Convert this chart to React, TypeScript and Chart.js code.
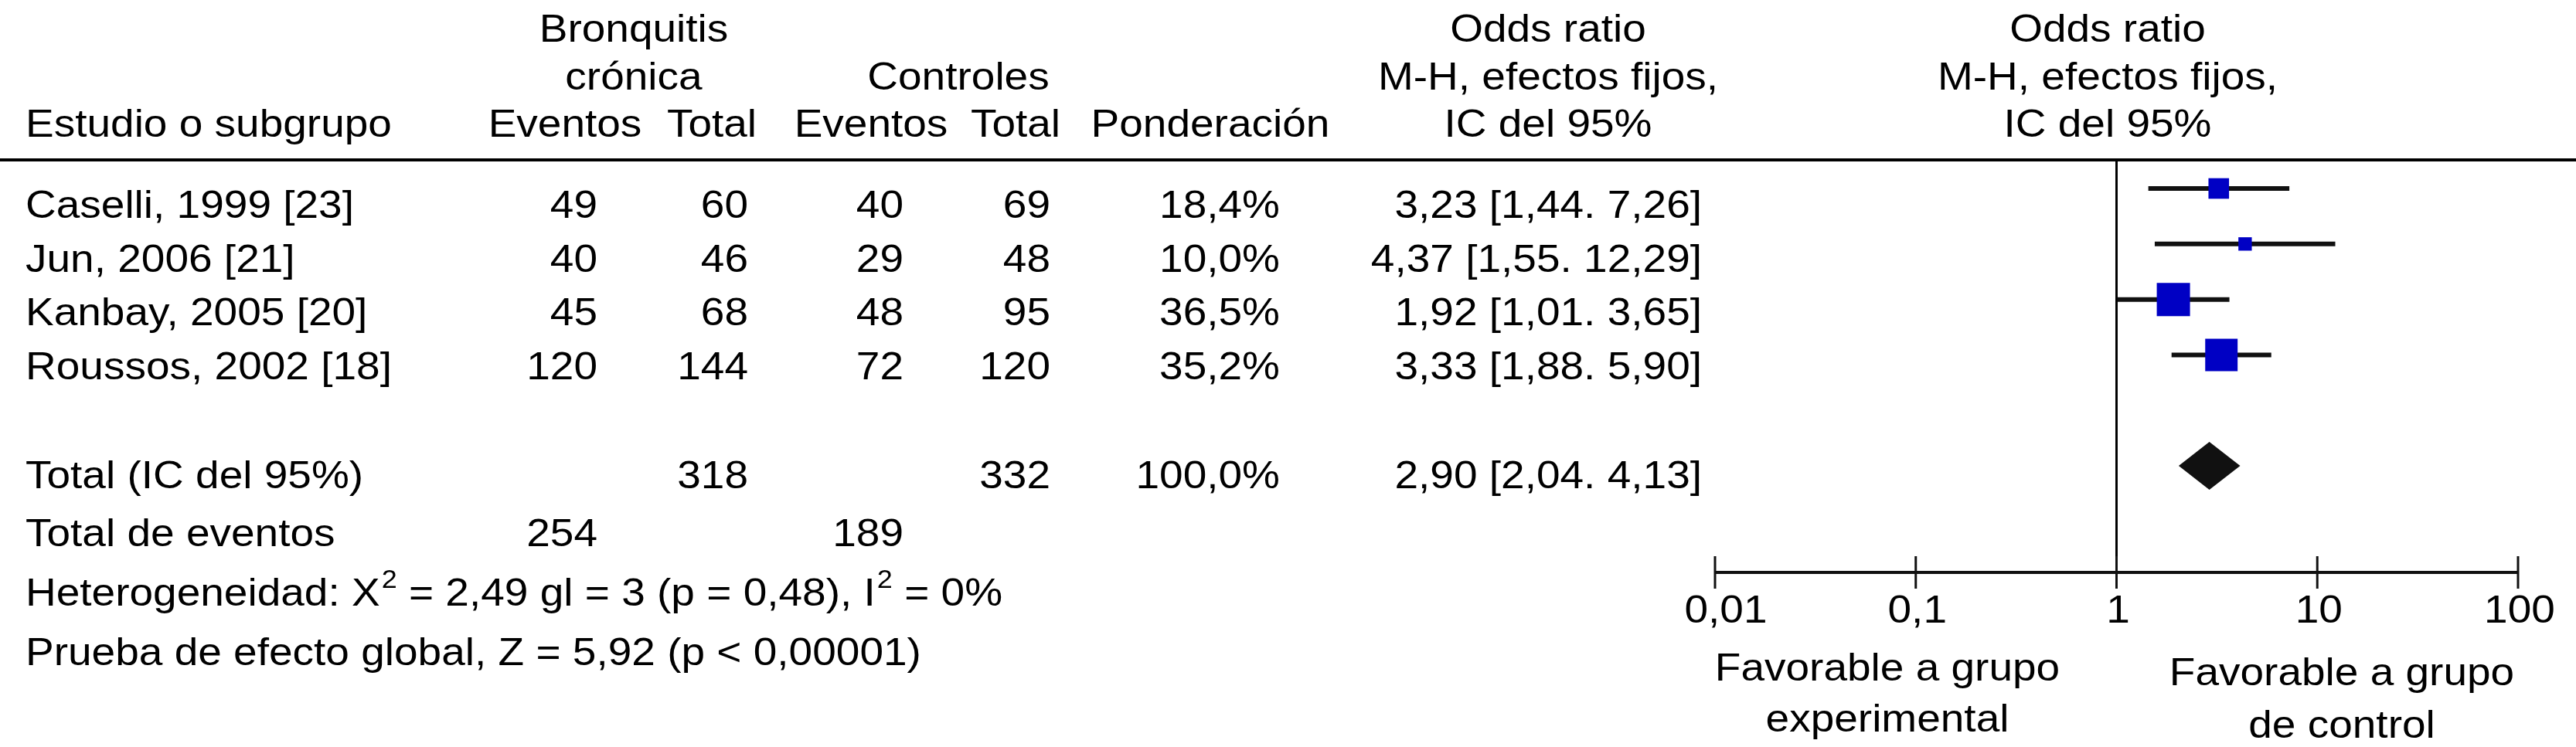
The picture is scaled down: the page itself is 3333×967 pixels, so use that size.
import React, { useEffect, useRef } from "react";
import { Chart, registerables } from "chart.js";

Chart.register(...registerables);

// ---------- data ----------
const studies = ["Caselli, 1999 [23]", "Jun, 2006 [21]", "Kanbay, 2005 [20]", "Roussos, 2002 [18]"];
const expEvents = [49, 40, 45, 120];
const expTotal = [60, 46, 68, 144];
const ctrlEvents = [40, 29, 48, 72];
const ctrlTotal = [69, 48, 95, 120];
const weights = [18.4, 10.0, 36.5, 35.2];
const oddsRatio = [3.23, 4.37, 1.92, 3.33];
const ciLow = [1.44, 1.55, 1.01, 1.88];
const ciHigh = [7.26, 12.29, 3.65, 5.9];
const studyRows = [0, 1, 2, 3];

const totalRow = 5;
const totalLabel = "Total (IC del 95%)";
const totalExp = 318;
const totalCtrl = 332;
const totalWeight = 100.0;
const totalOR = [2.9];
const totalLow = [2.04];
const totalHigh = [4.13];
const eventsLabel = "Total de eventos";
const totalExpEvents = 254;
const totalCtrlEvents = 189;

const tickValues = [0.01, 0.1, 1, 10, 100];
const tickLabels = ["0,01", "0,1", "1", "10", "100"];

const heteroParts: [string, boolean][] = [
  ["Heterogeneidad: X", false],
  ["2", true],
  [" = 2,49 gl = 3 (p = 0,48), I", false],
  ["2", true],
  [" = 0%", false],
];
const overallText = "Prueba de efecto global, Z = 5,92 (p < 0,00001)";

// ---------- helpers ----------
const W = 3333;
const H = 967;
const FONT = '"Liberation Sans", Arial, Helvetica, sans-serif';
const FS = 55;
const SQ = 0.9;
const BLUE = "#0000c4";
const INK = "#111111";

const fmt = (v: number, d: number) => v.toFixed(d).replace(".", ",");
const ciText = (o: number, l: number, h: number) => `${fmt(o, 2)} [${fmt(l, 2)}. ${fmt(h, 2)}]`;

function txt(ctx: CanvasRenderingContext2D, s: string, x: number, y: number, align: CanvasTextAlign, size = FS) {
  ctx.save();
  ctx.font = `${size}px ${FONT}`;
  ctx.translate(x, y);
  ctx.scale(1, SQ);
  ctx.textAlign = align;
  ctx.textBaseline = "alphabetic";
  ctx.fillStyle = "#000";
  ctx.fillText(s, 0, 0);
  ctx.restore();
}

const forestPlugin = {
  id: "forest",
  beforeDatasetsDraw(chart: any) {
    const { ctx, chartArea, scales } = chart;
    const xs = scales.x;
    ctx.save();
    ctx.strokeStyle = "#000";
    // header rule
    ctx.lineWidth = 4;
    ctx.beginPath();
    ctx.moveTo(0, chartArea.top);
    ctx.lineTo(W, chartArea.top);
    ctx.stroke();
    // line of no effect
    const x1 = xs.getPixelForValue(1);
    ctx.lineWidth = 3;
    ctx.beginPath();
    ctx.moveTo(x1, chartArea.top);
    ctx.lineTo(x1, chartArea.bottom);
    ctx.stroke();
    // axis
    const ay = chartArea.bottom;
    ctx.strokeStyle = INK;
    ctx.lineWidth = 4;
    ctx.beginPath();
    ctx.moveTo(xs.getPixelForValue(tickValues[0]), ay);
    ctx.lineTo(xs.getPixelForValue(tickValues[tickValues.length - 1]), ay);
    ctx.stroke();
    ctx.lineWidth = 3;
    tickValues.forEach((v, i) => {
      const px = xs.getPixelForValue(v);
      ctx.beginPath();
      ctx.moveTo(px, ay - 21);
      ctx.lineTo(px, ay + 21);
      ctx.stroke();
      txt(ctx, tickLabels[i], px + (i === 0 ? 14 : 2), ay + 65, "center");
    });
    ctx.restore();
  },
  afterDatasetsDraw(chart: any) {
    const { ctx, scales } = chart;
    const xs = scales.x;
    const ys = scales.y;
    ctx.save();
    ctx.fillStyle = INK;
    totalOR.forEach((o, i) => {
      const cy = ys.getPixelForValue(totalRow);
      const xl = xs.getPixelForValue(totalLow[i]);
      const xr = xs.getPixelForValue(totalHigh[i]);
      const xc = xs.getPixelForValue(o);
      ctx.beginPath();
      ctx.moveTo(xl, cy);
      ctx.lineTo(xc, cy - 31);
      ctx.lineTo(xr, cy);
      ctx.lineTo(xc, cy + 31);
      ctx.closePath();
      ctx.fill();
    });
    ctx.restore();
  },
  afterDraw(chart: any) {
    const { ctx } = chart;
    // header
    const h1 = 54, h2 = 116, h3 = 177;
    txt(ctx, "Bronquitis", 820, h1, "center");
    txt(ctx, "crónica", 820, h2, "center");
    txt(ctx, "Controles", 1240, h2, "center");
    txt(ctx, "Odds ratio", 2003, h1, "center");
    txt(ctx, "M-H, efectos fijos,", 2003, h2, "center");
    txt(ctx, "IC del 95%", 2003, h3, "center");
    txt(ctx, "Odds ratio", 2727, h1, "center");
    txt(ctx, "M-H, efectos fijos,", 2727, h2, "center");
    txt(ctx, "IC del 95%", 2727, h3, "center");
    txt(ctx, "Estudio o subgrupo", 33, h3, "left");
    txt(ctx, "Eventos", 731, h3, "center");
    txt(ctx, "Total", 921, h3, "center");
    txt(ctx, "Eventos", 1127, h3, "center");
    txt(ctx, "Total", 1314, h3, "center");
    txt(ctx, "Ponderación", 1566, h3, "center");

    // studies
    const rowBase = [282, 352, 421, 491];
    studies.forEach((s, i) => {
      const y = rowBase[i];
      txt(ctx, s, 33, y, "left");
      txt(ctx, String(expEvents[i]), 773, y, "right");
      txt(ctx, String(expTotal[i]), 968, y, "right");
      txt(ctx, String(ctrlEvents[i]), 1169, y, "right");
      txt(ctx, String(ctrlTotal[i]), 1359, y, "right");
      txt(ctx, fmt(weights[i], 1) + "%", 1656, y, "right");
      txt(ctx, ciText(oddsRatio[i], ciLow[i], ciHigh[i]), 2202, y, "right");
    });

    // total
    const ty = 632;
    txt(ctx, totalLabel, 33, ty, "left");
    txt(ctx, String(totalExp), 968, ty, "right");
    txt(ctx, String(totalCtrl), 1359, ty, "right");
    txt(ctx, fmt(totalWeight, 1) + "%", 1656, ty, "right");
    txt(ctx, ciText(totalOR[0], totalLow[0], totalHigh[0]), 2202, ty, "right");

    const ey = 707;
    txt(ctx, eventsLabel, 33, ey, "left");
    txt(ctx, String(totalExpEvents), 773, ey, "right");
    txt(ctx, String(totalCtrlEvents), 1169, ey, "right");

    // heterogeneity
    const hy = 784;
    let hx = 33;
    ctx.save();
    heteroParts.forEach(([s, sup]) => {
      const size = sup ? 36 : FS;
      ctx.font = `${size}px ${FONT}`;
      const w = ctx.measureText(s).width;
      txt(ctx, s, hx + (sup ? 2 : 0), sup ? hy - 23 : hy, "left", size);
      hx += w + (sup ? 2 : 0);
    });
    ctx.restore();
    txt(ctx, overallText, 33, 861, "left");

    // favours
    txt(ctx, "Favorable a grupo", 2442, 881, "center");
    txt(ctx, "experimental", 2442, 947, "center");
    txt(ctx, "Favorable a grupo", 3030, 887, "center");
    txt(ctx, "de control", 3030, 955, "center");
  },
};

export default function App() {
  const ref = useRef<HTMLCanvasElement | null>(null);

  useEffect(() => {
    document.body.style.margin = "0";
    const canvas = ref.current;
    if (!canvas) return;

    const squares = {
      type: "scatter" as const,
      label: "OR",
      order: 0,
      data: oddsRatio.map((v, i) => ({ x: v, y: studyRows[i] })),
      pointStyle: "rect",
      pointRadius: (c: any) => (43 * Math.pow(weights[c.dataIndex] / 36.5, 0.7)) / Math.SQRT2,
      pointBackgroundColor: BLUE,
      pointBorderWidth: 0,
      borderWidth: 0,
      showLine: false,
    };
    const lines = studies.map((s, i) => ({
      type: "line" as const,
      label: s,
      order: 1,
      data: [
        { x: ciLow[i], y: studyRows[i] },
        { x: ciHigh[i], y: studyRows[i] },
      ],
      borderColor: INK,
      borderWidth: 6,
      borderCapStyle: "butt",
      pointRadius: 0,
      fill: false,
    }));

    const chart = new Chart(canvas, {
      type: "scatter",
      data: { datasets: [squares as any, ...(lines as any[])] },
      options: {
        responsive: false,
        maintainAspectRatio: false,
        devicePixelRatio: 1,
        animation: false,
        layout: { padding: { left: 2219, right: 75, top: 207, bottom: 226 } },
        plugins: { legend: { display: false }, tooltip: { enabled: false } },
        events: [],
        scales: {
          x: { type: "logarithmic", min: 0.01, max: 100, display: false },
          y: { type: "linear", min: -0.515, max: 6.92, reverse: true, display: false },
        },
      },
      plugins: [forestPlugin],
    });
    return () => chart.destroy();
  }, []);

  return (
    <div style={{ position: "absolute", left: 0, top: 0, width: W, height: H, background: "#fff" }}>
      <canvas ref={ref} width={W} height={H} style={{ width: W, height: H, display: "block" }} />
    </div>
  );
}
